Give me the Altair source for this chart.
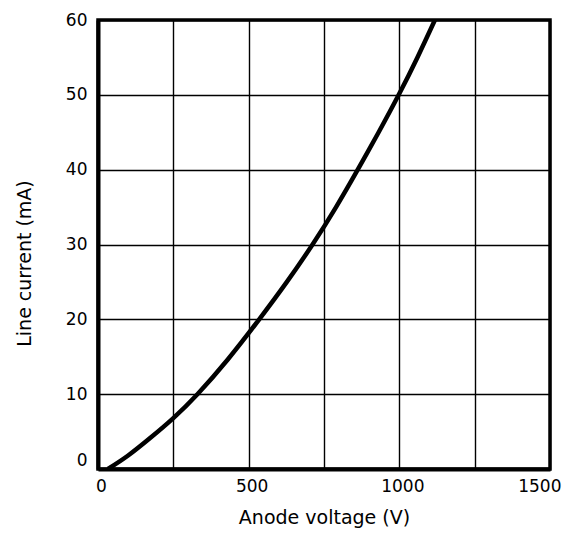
import altair as alt
import pandas as pd

voltage = [33, 100, 175, 250, 330, 430, 535, 625, 712, 790, 862, 930, 998, 1060, 1118]
current = [0, 1.8, 4.2, 6.8, 10, 14.6, 20, 24.9, 30, 35.0, 40, 44.9, 50, 55.0, 60]

x_ticks = [0, 250, 500, 750, 1000, 1250, 1500]
y_ticks = [0, 10, 20, 30, 40, 50, 60]

df = pd.DataFrame({"V": voltage, "I": current})

FONT = "DejaVu Sans"

chart = alt.Chart(df).mark_line(
    color="black", strokeWidth=4.5, interpolate="natural", clip=True
).encode(
    x=alt.X("V:Q", scale=alt.Scale(domain=[0, 1500], nice=False),
            axis=alt.Axis(values=x_ticks, title="Anode voltage (V)", format="d",
                          labelExpr="datum.value % 500 == 0 ? datum.label : ''",
                          labelFlush=False, labelOverlap=False,
                          labelAlign={"condition": {"test": "datum.value == 1500", "value": "right"}, "value": "center"},
                          labelOffset={"condition": {"test": "datum.value == 1500", "value": 11}, "value": 3},
                          ticks=False, labelPadding=9,
                          titleY=39, titleBaseline="top")),
    y=alt.Y("I:Q", scale=alt.Scale(domain=[0, 60], nice=False),
            axis=alt.Axis(values=y_ticks, title="Line current  (mA)",
                          ticks=False, labelPadding=11,
                          labelBaseline={"condition": {"test": "datum.value == 0", "value": "bottom"}, "value": "middle"},
                          labelFlush=False, labelOverlap=False,
                          titleX=-64, titleY=243, titleAngle=-90, titleBaseline="bottom",
                          titleAlign="center")),
).properties(
    width=452, height=449,
    autosize=alt.AutoSizeParams(type="none"),
    padding={"left": 90, "top": 12, "right": 12, "bottom": 62},
).configure_view(
    stroke="black", strokeWidth=3.5
).configure_axis(
    grid=True, gridColor="black", gridWidth=1.4, gridOpacity=1,
    domainColor="black", domainWidth=4,
    labelFont=FONT, labelFontSize=17, labelColor="black",
    titleFont=FONT, titleFontSize=19, titleFontWeight="normal", titleColor="black",
)

chart.save("out.html", embed_options={"renderer": "svg", "actions": False})
